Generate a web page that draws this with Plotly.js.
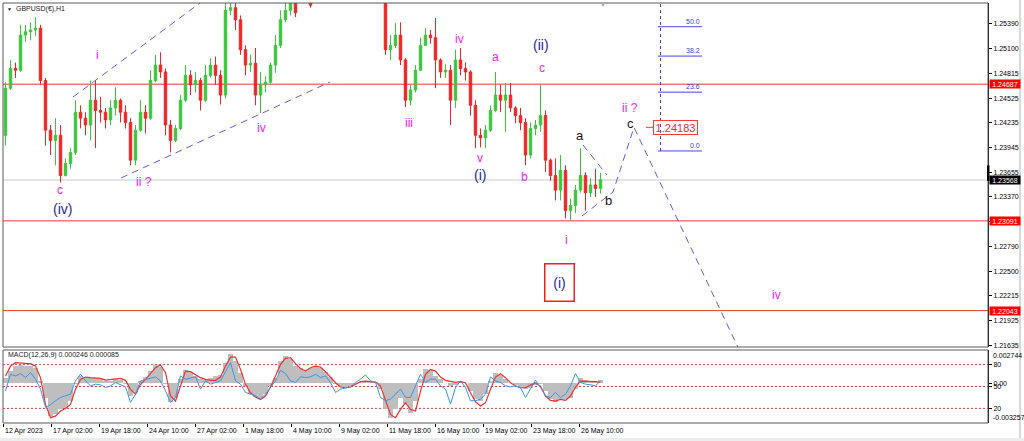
<!DOCTYPE html>
<html><head><meta charset="utf-8">
<script src="https://cdn.plot.ly/plotly-3.0.1.min.js"></script>
<style>html,body{margin:0;padding:0;background:#fff;overflow:hidden}#chart{width:1024px;height:441px}</style>
</head><body><div id="chart"></div>
<script>
// ---------- price data (one candle ~ 6-7 hours) ----------
const candleOpen = [1.2409,1.2464,1.2487,1.2485,1.2526,1.2530,1.2532,1.2534,1.2473,1.2415,
1.2403,1.2409,1.2362,1.2376,1.2389,1.2436,1.2429,1.2421,1.2450,1.2438,
1.2436,1.2427,1.2441,1.2450,1.2436,1.2424,1.2380,1.2415,1.2436,1.2429,
1.2473,1.2491,1.2483,1.2421,1.2403,1.2417,1.2450,1.2479,1.2468,1.2473,
1.2450,1.2479,1.2491,1.2479,1.2456,1.2555,1.2558,1.2544,1.2509,1.2491,
1.2493,1.2456,1.2468,1.2471,1.2491,1.2514,1.2544,1.2555,1.2573,1.2566,
1.2582,1.2574,1.2565,1.2592,1.2618,1.2632,1.2620,1.2610,1.2622,1.2645,
1.2638,1.2650,1.2660,1.2672,1.2640,1.2625,1.2615,1.2509,1.2514,1.2526,
1.2497,1.2450,1.2462,1.2485,1.2514,1.2526,1.2523,1.2497,1.2483,1.2485,
1.2450,1.2497,1.2487,1.2483,1.2444,1.2409,1.2406,1.2415,1.2438,1.2456,
1.2450,1.2456,1.2441,1.2432,1.2424,1.2386,1.2417,1.2421,1.2432,1.2380,
1.2362,1.2345,1.2368,1.2321,1.2327,1.2345,1.2362,1.2342,1.2351,1.2347];
const candleHigh = [1.2471,1.2497,1.2494,1.2538,1.2538,1.2541,1.2547,1.2538,1.2476,1.2421,
1.2429,1.2421,1.2382,1.2394,1.2450,1.2444,1.2436,1.2473,1.2473,1.2454,
1.2441,1.2450,1.2465,1.2452,1.2444,1.2429,1.2421,1.2450,1.2444,1.2485,
1.2503,1.2506,1.2487,1.2427,1.2421,1.2456,1.2491,1.2485,1.2483,1.2476,
1.2491,1.2499,1.2501,1.2485,1.2573,1.2576,1.2567,1.2549,1.2514,1.2503,
1.2511,1.2483,1.2478,1.2494,1.2526,1.2555,1.2569,1.2571,1.2576,1.2588,
1.2595,1.2578,1.2598,1.2625,1.2640,1.2645,1.2634,1.2628,1.2650,1.2662,
1.2655,1.2668,1.2680,1.2678,1.2650,1.2636,1.2625,1.2526,1.2540,1.2541,
1.2499,1.2468,1.2491,1.2523,1.2534,1.2532,1.2546,1.2499,1.2492,1.2491,
1.2509,1.2511,1.2494,1.2485,1.2450,1.2417,1.2421,1.2444,1.2483,1.2468,
1.2470,1.2470,1.2443,1.2441,1.2429,1.2424,1.2427,1.2468,1.2438,1.2382,
1.2382,1.2386,1.2374,1.2335,1.2351,1.2394,1.2366,1.2359,1.2370,1.2365];
const candleLow = [1.2397,1.2462,1.2476,1.2483,1.2518,1.2520,1.2525,1.2468,1.2397,1.2386,
1.2374,1.2354,1.2361,1.2370,1.2386,1.2417,1.2409,1.2403,1.2394,1.2424,
1.2417,1.2421,1.2432,1.2424,1.2417,1.2374,1.2374,1.2413,1.2411,1.2427,
1.2471,1.2476,1.2409,1.2389,1.2401,1.2415,1.2448,1.2456,1.2459,1.2438,
1.2448,1.2476,1.2468,1.2445,1.2452,1.2549,1.2532,1.2503,1.2479,1.2483,
1.2444,1.2435,1.2459,1.2468,1.2482,1.2511,1.2541,1.2549,1.2547,1.2564,
1.2570,1.2558,1.2564,1.2585,1.2605,1.2612,1.2598,1.2600,1.2615,1.2630,
1.2625,1.2640,1.2648,1.2630,1.2615,1.2605,1.2503,1.2497,1.2511,1.2491,
1.2442,1.2444,1.2459,1.2485,1.2514,1.2516,1.2464,1.2476,1.2476,1.2421,
1.2441,1.2479,1.2473,1.2432,1.2394,1.2395,1.2394,1.2413,1.2436,1.2436,
1.2413,1.2436,1.2423,1.2415,1.2374,1.2382,1.2409,1.2413,1.2366,1.2356,
1.2333,1.2333,1.2312,1.2309,1.2318,1.2342,1.2321,1.2337,1.2337,1.2341];
const candleClose = [1.2464,1.2487,1.2485,1.2526,1.2530,1.2532,1.2534,1.2473,1.2415,1.2403,
1.2409,1.2362,1.2376,1.2389,1.2436,1.2429,1.2421,1.2450,1.2438,1.2436,
1.2427,1.2441,1.2450,1.2436,1.2424,1.2380,1.2415,1.2436,1.2429,1.2473,
1.2491,1.2483,1.2421,1.2403,1.2417,1.2450,1.2479,1.2468,1.2473,1.2450,
1.2479,1.2491,1.2479,1.2456,1.2555,1.2558,1.2544,1.2509,1.2491,1.2493,
1.2456,1.2468,1.2471,1.2491,1.2514,1.2544,1.2555,1.2568,1.2552,1.2582,
1.2574,1.2561,1.2592,1.2618,1.2632,1.2620,1.2610,1.2622,1.2645,1.2638,
1.2650,1.2660,1.2672,1.2640,1.2625,1.2615,1.2509,1.2514,1.2526,1.2497,
1.2450,1.2462,1.2485,1.2514,1.2526,1.2523,1.2497,1.2483,1.2485,1.2450,
1.2497,1.2487,1.2483,1.2444,1.2409,1.2406,1.2415,1.2438,1.2456,1.2450,
1.2456,1.2441,1.2432,1.2424,1.2386,1.2417,1.2421,1.2432,1.2380,1.2362,
1.2345,1.2368,1.2321,1.2327,1.2345,1.2362,1.2342,1.2351,1.2347,1.2357];

// ---------- MACD window ----------
const macdMain = [0.00047,0.00101,0.00142,0.00151,0.00142,0.00142,0.00129,0.00019,-0.00118,-0.00269,
-0.00255,-0.00214,-0.00200,-0.00145,-0.00008,0.00060,0.00052,0.00041,0.00047,0.00033,
0.00019,0.00019,0.00033,0.00025,-0.00008,-0.00104,-0.00077,0.00019,0.00052,0.00101,
0.00151,0.00134,-0.00008,-0.00151,-0.00118,0.00033,0.00107,0.00096,0.00060,0.00033,
0.00025,0.00047,0.00060,0.00069,0.00170,0.00238,0.00184,0.00088,-0.00022,-0.00090,
-0.00112,-0.00132,-0.00090,-0.00022,0.00047,0.00184,0.00225,0.00197,0.00142,0.00123,
0.00101,0.00123,0.00142,0.00123,0.00096,0.00052,-0.00003,-0.00030,-0.00030,-0.00022,
-0.00008,0.00014,0.00019,0.00019,0.00014,-0.00049,-0.00214,-0.00282,-0.00214,-0.00118,
-0.00173,-0.00241,-0.00145,0.00033,0.00115,0.00107,0.00060,0.00033,0.00005,-0.00022,
-0.00014,0.00019,0.00005,-0.00063,-0.00132,-0.00145,-0.00090,0.00019,0.00088,0.00069,
0.00033,0.00005,-0.00014,-0.00030,-0.00049,-0.00036,-0.00014,-0.00008,-0.00063,-0.00132,
-0.00151,-0.00140,-0.00132,-0.00118,-0.00049,0.00047,0.00025,0.00019,0.00019,0.000246];
const macdSignal = [0.00060,0.00142,0.00170,0.00170,0.00164,0.00162,0.00142,0.00047,-0.00173,-0.00282,
-0.00269,-0.00227,-0.00206,-0.00173,-0.00049,0.00033,0.00052,0.00047,0.00047,0.00041,
0.00027,0.00030,0.00036,0.00041,0.00025,-0.00049,-0.00090,-0.00008,0.00033,0.00079,
0.00129,0.00151,0.00088,-0.00104,-0.00145,-0.00022,0.00101,0.00096,0.00074,0.00047,
0.00033,0.00025,0.00025,0.00052,0.00142,0.00216,0.00216,0.00115,-0.00008,-0.00077,
-0.00112,-0.00132,-0.00104,-0.00030,0.00060,0.00156,0.00206,0.00211,0.00162,0.00123,
0.00101,0.00129,0.00142,0.00134,0.00096,0.00047,0.00005,-0.00030,-0.00036,-0.00030,
-0.00008,0.00014,0.00019,0.00016,0.00011,-0.00022,-0.00145,-0.00255,-0.00282,-0.00214,
-0.00159,-0.00214,-0.00227,-0.00063,0.00074,0.00115,0.00101,0.00052,0.00025,0.00019,
0.00008,0.00014,0.00005,-0.00077,-0.00151,-0.00186,-0.00159,-0.00049,0.00052,0.00079,
0.00047,0.00005,-0.00022,-0.00036,-0.00036,-0.00014,0.00003,-0.00022,-0.00104,-0.00140,
-0.00145,-0.00132,-0.00140,-0.00104,-0.00030,0.00019,0.00019,0.00019,0.00014,0.000085];
const oscLine = [44.1,66.8,64.5,67.7,62.3,69.1,60.0,46.4,21.4,25.0,
30.5,35.0,37.3,39.5,57.7,66.8,57.7,50.9,53.2,52.3,
48.6,50.9,55.5,52.3,49.5,28.2,39.5,57.7,60.0,61.4,
63.2,57.7,44.1,28.2,35.0,64.5,60.0,61.4,63.2,46.4,
57.7,53.2,55.5,57.7,70.5,82.7,57.7,53.2,41.8,39.5,
37.3,32.7,39.5,48.6,57.7,72.3,67.7,57.7,55.5,63.2,
62.3,63.2,66.8,62.3,64.5,55.5,41.8,46.4,47.7,49.5,
55.5,60.0,65.9,57.7,55.5,35.0,30.5,32.7,39.5,46.4,
35.0,35.0,50.9,66.8,55.5,60.0,60.0,50.9,46.4,25.9,
48.6,57.7,48.6,30.5,30.5,32.7,39.5,63.2,57.7,55.5,
50.9,49.5,50.9,48.6,35.0,46.4,58.6,48.6,37.3,35.0,
41.8,35.0,39.5,50.9,67.7,55.5,53.2,52.3,50.9,57.7];
const oscLevels = [80, 50, 20];
const macdRange = [-0.003257, 0.002744];

// ---------- axes ----------
const priceTicks = [1.25390,1.25100,1.24815,1.24525,1.24235,1.23945,1.23655,1.23370,1.23080,1.22790,1.22500,1.22215,1.21925,1.21635];
const priceRange = [1.21618, 1.25635];
const timeTickIdx = [-0.36,9.24,18.84,28.44,38.04,47.64,57.24,66.84,76.44,86.04,95.64,105.24,114.84];
const timeTickLabels = ["12 Apr 2023","17 Apr 02:00","19 Apr 18:00","24 Apr 10:00","27 Apr 02:00","1 May 18:00","4 May 10:00","9 May 02:00","11 May 18:00","16 May 10:00","19 May 02:00","23 May 18:00","26 May 10:00"];
const xRange = [-0.5, 196.5];

// ---------- horizontal levels ----------
const redLevels = [1.24687, 1.23091, 1.22043];
const currentPrice = 1.23568;
const targetPrice = 1.24183;

// ---------- drawn objects (bar index, price) ----------
const channelUpperIdx = [13.5, 41.9], channelUpperPrice = [1.24537, 1.25765];
const channelLowerIdx = [23.1, 64.9], channelLowerPrice = [1.23591, 1.24713];
const triUpperIdx = [115.5, 120.3], triUpperPrice = [1.23977, 1.23626];
const projIdx = [115.3, 121.5, 125.7, 147.7], projPrice = [1.23147, 1.23428, 1.24183, 1.21466];
const fibIdx = 131.0, fibSpanIdx = [130.5, 139.3];
const fibLevelPrices = [1.23907, 1.24594, 1.25015, 1.25358];
const fibLevelNames = ["0.0", "23.6", "38.2", "50.0"];
const fibTopPrice = 1.2682;
const targetMarkIdx = [128.1, 129.5], targetBoxIdx = 134.0;

const waveText  = ["c","(iv)","i","ii ?","iv","iii","iv","v","(i)","a","(ii)","c","b","i","a","b","ii ?","c","iv"];
const waveIdx   = [10.9,11.4,18.4,27.6,51.2,80.6,90.8,94.9,94.9,98.0,107.1,107.3,103.8,112.2,114.9,120.6,124.9,124.9,154.2];
const wavePrice = [1.23451,1.23229,1.25028,1.23548,1.24179,1.24237,1.25211,1.23821,1.23626,1.25008,1.25145,1.24873,1.23607,1.22867,1.24082,1.23334,1.24405,1.24230,1.22225];
const waveDegree= ["minor","major","minor","minor","minor","minor","minor","minor","major","minor","major","minor","minor","minor","sub","sub","minor","sub","minor"];
const boxedLabel = {text:"(i)", idx:110.7, price:1.22368};

// ---------- build ----------
const W = 1024, H = 441;
const px = v => v / W, py = v => 1 - v / H;
const FONT = "Liberation Sans, Arial, sans-serif";
const barIdx = candleOpen.map((_, i) => i);
const degreeStyle = {
  minor: {color: "#F21EF2", size: 12},
  major: {color: "#2626A6", size: 14},
  sub:   {color: "#151515", size: 13}
};
const blueDash = {color: "#5C5CF0", width: 1, dash: "7px,5px"};

const traces = [];
traces.push({type: "candlestick", x: barIdx, open: candleOpen, high: candleHigh, low: candleLow, close: candleClose,
  xaxis: "x", yaxis: "y", whiskerwidth: 0, hoverinfo: "skip", showlegend: false,
  increasing: {line: {color: "#3CC63C", width: 1}, fillcolor: "#3CC63C"},
  decreasing: {line: {color: "#EE2626", width: 1}, fillcolor: "#EE2626"}});
const line = (x, y, style) => ({type: "scatter", mode: "lines", x, y, xaxis: "x", yaxis: "y", line: style, hoverinfo: "skip", showlegend: false});
traces.push(line(channelUpperIdx, channelUpperPrice, blueDash));
traces.push(line(channelLowerIdx, channelLowerPrice, blueDash));
traces.push(line(triUpperIdx, triUpperPrice, blueDash));
traces.push(line(projIdx, projPrice, blueDash));
traces.push(line([fibIdx, fibIdx], [fibLevelPrices[0], fibTopPrice], {color: "#3A3AE6", width: 1, dash: "dot"}));
const fx = [], fy = [];
fibLevelPrices.forEach(p => { fx.push(fibSpanIdx[0], fibSpanIdx[1], null); fy.push(p, p, null); });
traces.push(line(fx, fy, {color: "#4848E0", width: 1}));
traces.push(line(targetMarkIdx, [targetPrice, targetPrice], {color: "#FF3A3A", width: 1}));

traces.push({type: "bar", x: barIdx, y: macdMain, xaxis: "x", yaxis: "y2", width: 1,
  marker: {color: "#BEBEBE", line: {width: 0}}, hoverinfo: "skip", showlegend: false});
traces.push({type: "scatter", mode: "lines", x: barIdx, y: macdSignal, xaxis: "x", yaxis: "y2",
  line: {color: "#F23030", width: 1.2}, hoverinfo: "skip", showlegend: false});
traces.push({type: "scatter", mode: "lines", x: barIdx, y: oscLine, xaxis: "x", yaxis: "y3",
  line: {color: "#3796F0", width: 1}, hoverinfo: "skip", showlegend: false});

const shapes = [];
redLevels.forEach((p, k) => shapes.push({type: "line", xref: "x", yref: "y", x0: xRange[0], x1: xRange[1], y0: p, y1: p, layer: "below",
  line: {color: k === 0 ? "#F27878" : "#F03535", width: k === 0 ? 1.6 : 1}}));
shapes.push({type: "line", xref: "x", yref: "y", x0: xRange[0], x1: xRange[1], y0: currentPrice, y1: currentPrice, layer: "below",
  line: {color: "#C8C8C8", width: 1}});
oscLevels.forEach(v => shapes.push({type: "line", xref: "x", yref: "y3", x0: xRange[0], x1: xRange[1], y0: v, y1: v, layer: "below",
  line: {color: "#F03A3A", width: 1, dash: "2px,2px"}}));
shapes.push({type: "rect", xref: "paper", yref: "paper", x0: px(3), x1: px(988), y0: py(347), y1: py(3), line: {color: "#5A5A5A", width: 1}});
shapes.push({type: "rect", xref: "paper", yref: "paper", x0: px(3), x1: px(988), y0: py(423), y1: py(350), line: {color: "#5A5A5A", width: 1}});
shapes.push({type: "line", xref: "paper", yref: "paper", x0: px(1020), x1: px(1020), y0: py(441), y1: py(0), line: {color: "#B4B4B4", width: 1}});
shapes.push({type: "rect", xref: "paper", yref: "paper", x0: px(0), x1: px(1024), y0: py(441), y1: py(438), fillcolor: "#EDEDED", line: {width: 0}});
shapes.push({type: "rect", xref: "paper", yref: "y", x0: px(987), x1: px(989.5), y0: currentPrice - 0.0001, y1: currentPrice + 0.0017, fillcolor: "#000", line: {width: 0}});

const ann = [];
waveText.forEach((t, k) => {
  const st = degreeStyle[waveDegree[k]];
  ann.push({xref: "x", yref: "y", x: waveIdx[k], y: wavePrice[k], text: t, showarrow: false,
    font: {family: FONT, size: st.size, color: st.color}});
});
ann.push({xref: "x", yref: "y", x: boxedLabel.idx, y: boxedLabel.price, text: boxedLabel.text, showarrow: false,
  font: {family: FONT, size: 14, color: "#2626A6"}, bordercolor: "#F02020", borderwidth: 1.5, borderpad: 2, width: 24, height: 32, bgcolor: "#fff"});
ann.push({xref: "x", yref: "y", x: targetBoxIdx, y: targetPrice, text: targetPrice.toFixed(5), showarrow: false,
  font: {family: FONT, size: 11, color: "#FF2A2A"}, bordercolor: "#FF3A3A", borderwidth: 1, borderpad: 1, width: 41, height: 11, bgcolor: "rgba(255,255,255,0)"});
fibLevelPrices.forEach((p, k) => ann.push({xref: "x", yref: "y", x: fibSpanIdx[1], y: p, xanchor: "right", yanchor: "bottom",
  text: fibLevelNames[k], showarrow: false, font: {family: FONT, size: 7, color: "#4040D8"}}));
const tag = (p, bg) => ann.push({xref: "paper", yref: "y", x: px(989), y: p, xanchor: "left", yanchor: "middle",
  text: p.toFixed(5), showarrow: false, bgcolor: bg, borderpad: 0, width: 30, height: 8,
  font: {family: FONT, size: 7, color: "#fff"}});
redLevels.forEach(p => tag(p, "#FF0000"));
tag(currentPrice, "#000000");
ann.push({xref: "paper", yref: "y2", x: px(991), y: macdRange[1], xanchor: "left", yanchor: "top", text: macdRange[1].toFixed(6),
  showarrow: false, font: {family: FONT, size: 7, color: "#000"}});
ann.push({xref: "paper", yref: "y2", x: px(991), y: macdRange[0], xanchor: "left", yanchor: "bottom", text: macdRange[0].toFixed(6),
  showarrow: false, font: {family: FONT, size: 7, color: "#000"}});
timeTickLabels.forEach((t, k) => ann.push({xref: "x", yref: "paper", x: timeTickIdx[k], y: py(431), xanchor: "left", yanchor: "middle",
  xshift: -1, text: t, showarrow: false, font: {family: FONT, size: 7, color: "#000"}}));
ann.push({xref: "paper", yref: "paper", x: px(5), y: py(9), xanchor: "left", yanchor: "middle", text: "▼", showarrow: false,
  font: {family: FONT, size: 5, color: "#222"}});
ann.push({xref: "paper", yref: "paper", x: px(14), y: py(9), xanchor: "left", yanchor: "middle", text: "GBPUSD(€),H1", showarrow: false,
  font: {family: FONT, size: 7, color: "#222"}});
ann.push({xref: "paper", yref: "paper", x: px(6), y: py(355), xanchor: "left", yanchor: "middle",
  text: "MACD(12,26,9) " + macdMain[macdMain.length - 1].toFixed(6) + " " + macdSignal[macdSignal.length - 1].toFixed(6),
  showarrow: false, font: {family: FONT, size: 7, color: "#222"}});
ann.push({xref: "paper", yref: "paper", x: px(603), y: py(5), xanchor: "center", yanchor: "middle", text: "▼", showarrow: false,
  font: {family: FONT, size: 6, color: "#A8A8A8"}});

const tickFont = {family: FONT, size: 7, color: "#000"};
const layout = {
  width: W, height: H, autosize: false, margin: {l: 0, r: 0, t: 0, b: 0},
  paper_bgcolor: "#fff", plot_bgcolor: "#fff", showlegend: false, bargap: 0, hovermode: false,
  font: {family: FONT},
  xaxis: {domain: [px(3), px(988)], range: xRange, anchor: "y2", showgrid: false, zeroline: false, showline: false,
    ticks: "outside", ticklen: 3, tickcolor: "#000", tickvals: timeTickIdx, showticklabels: false,
    rangeslider: {visible: false}, fixedrange: true},
  yaxis: {domain: [py(347), py(3)], range: priceRange, side: "right", anchor: "x", showgrid: false, zeroline: false,
    showline: true, linecolor: "#000", ticks: "outside", ticklen: 3, tickcolor: "#000",
    tickvals: priceTicks, ticktext: priceTicks.map(v => v.toFixed(5)), tickfont: tickFont, fixedrange: true},
  yaxis2: {domain: [py(423), py(350)], range: macdRange, side: "right", anchor: "x", showgrid: false, zeroline: false,
    showline: true, linecolor: "#000", ticks: "outside", ticklen: 3, tickcolor: "#000",
    tickvals: [0], ticktext: ["0.00"], tickfont: tickFont, fixedrange: true},
  yaxis3: {overlaying: "y2", side: "right", anchor: "x", range: [0, 100], showgrid: false, zeroline: false, showline: false,
    ticks: "outside", ticklen: 3, tickcolor: "#000", tickvals: oscLevels, ticktext: oscLevels.map(String), tickfont: tickFont, fixedrange: true},
  shapes: shapes, annotations: ann
};
Plotly.newPlot("chart", traces, layout, {staticPlot: true, displayModeBar: false});
</script>
</body></html>
